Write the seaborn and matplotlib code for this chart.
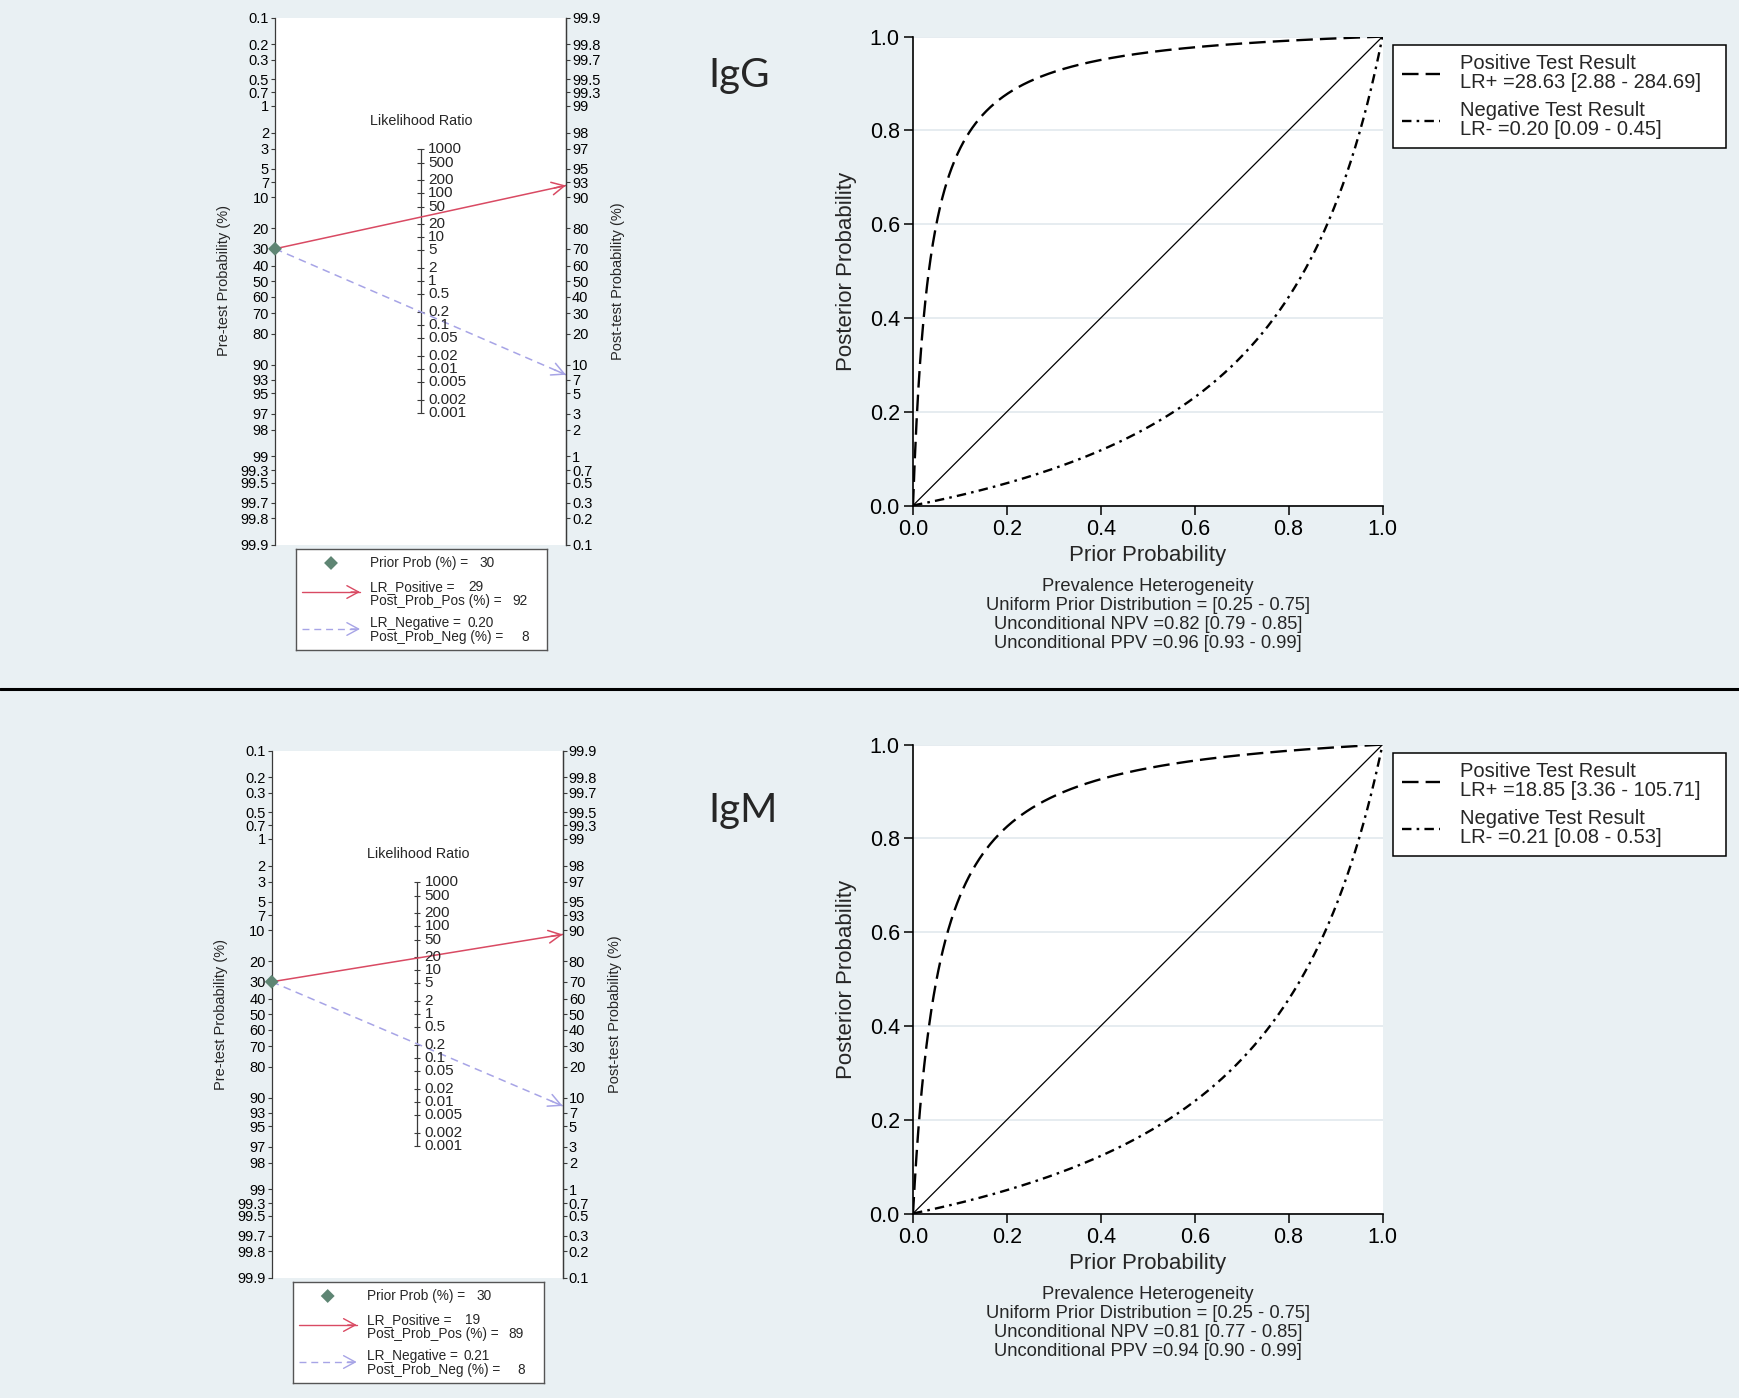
import numpy as np
import pandas as pd
import matplotlib
matplotlib.use("Agg")
import matplotlib.pyplot as plt
import seaborn as sns
from matplotlib.lines import Line2D

# ---------------- data ----------------
panel_names = ["IgG", "IgM"]
prior_prob = [30, 30]                      # %
lr_pos = [28.63, 18.85]
lr_pos_ci = [(2.88, 284.69), (3.36, 105.71)]
lr_neg = [0.20, 0.21]
lr_neg_ci = [(0.09, 0.45), (0.08, 0.53)]
post_prob_pos = [92, 89]                   # %
post_prob_neg = [8, 8]                     # %
prior_range = (0.25, 0.75)
npv = [0.82, 0.81]
npv_ci = [(0.79, 0.85), (0.77, 0.85)]
ppv = [0.96, 0.94]
ppv_ci = [(0.93, 0.99), (0.90, 0.99)]

pre_ticks = [0.1, 0.2, 0.3, 0.5, 0.7, 1, 2, 3, 5, 7, 10, 20, 30, 40, 50, 60, 70, 80,
             90, 93, 95, 97, 98, 99, 99.3, 99.5, 99.7, 99.8, 99.9]
post_ticks = [99.9, 99.8, 99.7, 99.5, 99.3, 99, 98, 97, 95, 93, 90, 80, 70, 60, 50, 40,
              30, 20, 10, 7, 5, 3, 2, 1, 0.7, 0.5, 0.3, 0.2, 0.1]
lr_ticks = [1000, 500, 200, 100, 50, 20, 10, 5, 2, 1, 0.5, 0.2, 0.1, 0.05, 0.02, 0.01,
            0.005, 0.002, 0.001]
prob_ticks = [0.0, 0.2, 0.4, 0.6, 0.8, 1.0]

# ---------------- style ----------------
sns.set_theme(style="white")
plt.rcParams["font.family"] = ["Liberation Sans", "DejaVu Sans"]

BG = "#E9F0F3"
GRID = "#E4EBEF"
POS_C = "#D94A63"
NEG_C = "#A7A4E6"
DIAM_C = "#5E8573"
AXC = "#3a3a3a"

W, H = 1739, 1398
fig = plt.figure(figsize=(W / 100, H / 100), dpi=100, facecolor=BG)


def frect(x0, y0, x1, y1):
    return [x0 / W, 1 - y1 / H, (x1 - x0) / W, (y1 - y0) / H]


def fx(x):
    return x / W


def fy(y):
    return 1 - y / H


def logit(p):
    p = np.asarray(p, dtype=float)
    return np.log(p / (1 - p))


def fmt(v):
    return f"{v:g}"


LIM = float(logit(0.999))
POS_LS = (0, (7, 3))
NEG_LS = (0, (4, 2.2, 1.1, 2.2))

for i, name in enumerate(panel_names):
    dxn, dyn = [0.0, -3.3][i], [0.0, 733.0][i]
    dyr = [0.0, 708.0][i]

    # ================= Fagan nomogram =================
    nx0, nx1 = 275 + dxn, 566 + dxn
    ny0, ny1 = 17.7 + dyn, 544.5 + dyn
    nw = nx1 - nx0
    ax = fig.add_axes(frect(nx0, ny0, nx1, ny1))
    ax.set_facecolor("white")
    ax.set_xlim(0, 1)
    ax.set_ylim(-LIM, LIM)
    for s in ["top", "bottom"]:
        ax.spines[s].set_visible(False)
    for s in ["left", "right"]:
        ax.spines[s].set_color(AXC)
        ax.spines[s].set_linewidth(0.9)
    ax.set_xticks([])
    ax.set_yticks(-logit(np.array(pre_ticks) / 100))
    ax.set_yticklabels([fmt(v) for v in pre_ticks])
    ax.tick_params(axis="y", direction="out", length=3.2, width=0.8, color=AXC,
                   labelsize=10.5, pad=1.2, labelcolor="black")
    ax.grid(False)

    tw = ax.twinx()
    tw.set_ylim(-LIM, LIM)
    for s in ["top", "bottom", "left"]:
        tw.spines[s].set_visible(False)
    tw.spines["right"].set_color(AXC)
    tw.spines["right"].set_linewidth(0.9)
    tw.set_yticks(logit(np.array(post_ticks) / 100))
    tw.set_yticklabels([fmt(v) for v in post_ticks])
    tw.tick_params(axis="y", direction="out", length=3.2, width=0.8, color=AXC,
                   labelsize=10.5, pad=1.2, labelcolor="black")
    tw.grid(False)

    # likelihood ratio scale
    lr_y = np.log(np.array(lr_ticks, dtype=float)) / 2
    ax.plot([0.5, 0.5], [lr_y.min(), lr_y.max()], color=AXC, lw=0.9)
    ax.hlines(lr_y, 0.5 - 3.2 / nw, 0.5 + 3.2 / nw, color=AXC, lw=0.8)
    for v, yy in zip(lr_ticks, lr_y):
        ax.text(0.5 + 7.5 / nw, yy, fmt(v), fontsize=11, ha="left", va="center")

    # lines from prior through LR
    y0 = float(-logit(prior_prob[i] / 100))
    yp = float(logit(prior_prob[i] / 100) + np.log(lr_pos[i]))
    yn = float(logit(prior_prob[i] / 100) + np.log(lr_neg[i]))
    ax.plot([0, 1], [y0, yp], color=POS_C, lw=1.1)
    ax.annotate("", xy=(1, yp), xytext=(0.96, y0 + (yp - y0) * 0.96),
                arrowprops=dict(arrowstyle="->,head_length=0.75,head_width=0.38",
                                color=POS_C, lw=1.1, shrinkA=0, shrinkB=0),
                annotation_clip=False)
    ax.plot([0, 1], [y0, yn], color=NEG_C, lw=1.1, linestyle=(0, (5, 3.5)))
    ax.annotate("", xy=(1, yn), xytext=(0.96, y0 + (yn - y0) * 0.96),
                arrowprops=dict(arrowstyle="->,head_length=0.75,head_width=0.38",
                                color=NEG_C, lw=1.1, shrinkA=0, shrinkB=0),
                annotation_clip=False)
    sns.scatterplot(x=[0.0], y=[y0], ax=ax, marker="D", s=50, color=DIAM_C,
                    edgecolor="none", zorder=6, clip_on=False, legend=False)
    ax.set_xlim(0, 1)
    ax.set_ylim(-LIM, LIM)
    ax.set_xlabel("")
    ax.set_ylabel("")

    fig.text(fx(421.7 + dxn), fy(120.7 + dyn), "Likelihood Ratio", fontsize=10.4,
             ha="center", va="center")
    fig.text(fx(224 + dxn), fy(281 + dyn), "Pre-test Probability (%)", fontsize=10.5,
             rotation=90, ha="center", va="center")
    fig.text(fx(618 + dxn), fy(281 + dyn), "Post-test Probability (%)", fontsize=10.5,
             rotation=90, ha="center", va="center")

    # nomogram legend box
    lx0, ly0 = 296 + dxn, 549 + dyn
    lax = fig.add_axes(frect(lx0, ly0, lx0 + 251, ly0 + 101))
    lax.set_facecolor("white")
    lax.set_xlim(0, 251)
    lax.set_ylim(101, 0)
    lax.set_xticks([])
    lax.set_yticks([])
    for s in lax.spines.values():
        s.set_color("#555555")
        s.set_linewidth(1.0)
        s.set_visible(True)
    lax.scatter([35], [14], marker="D", s=50, color=DIAM_C, edgecolor="none")
    fsl = 9.8
    lax.text(74, 14, "Prior Prob (%) =", fontsize=fsl, va="center")
    lax.text(184, 14, f"{prior_prob[i]}", fontsize=fsl, va="center")
    lax.plot([6, 64], [43, 43], color=POS_C, lw=1.0)
    lax.annotate("", xy=(64, 43), xytext=(55, 43),
                 arrowprops=dict(arrowstyle="->,head_length=0.7,head_width=0.38",
                                 color=POS_C, lw=1.0, shrinkA=0, shrinkB=0))
    lax.text(74, 38, "LR_Positive =", fontsize=fsl, va="center")
    lax.text(172, 38, f"{lr_pos[i]:.0f}", fontsize=fsl, va="center")
    lax.text(74, 52, "Post_Prob_Pos (%) =", fontsize=fsl, va="center")
    lax.text(216, 52, f"{post_prob_pos[i]}", fontsize=fsl, va="center")
    lax.plot([6, 64], [80, 80], color=NEG_C, lw=1.0, linestyle=(0, (5, 3.5)))
    lax.annotate("", xy=(64, 80), xytext=(55, 80),
                 arrowprops=dict(arrowstyle="->,head_length=0.7,head_width=0.38",
                                 color=NEG_C, lw=1.0, shrinkA=0, shrinkB=0))
    lax.text(74, 74, "LR_Negative =", fontsize=fsl, va="center")
    lax.text(171, 74, f"{lr_neg[i]:.2f}", fontsize=fsl, va="center")
    lax.text(74, 88, "Post_Prob_Neg (%) =", fontsize=fsl, va="center")
    lax.text(225, 88, f"{post_prob_neg[i]}", fontsize=fsl, va="center")

    # panel title
    fig.text(fx(708), fy(76 + [0, 734][i]), name, fontsize=29, ha="left", va="center",
             family=["Lato", "DejaVu Sans"])

    # ================= conditional probability plot =================
    rx0, rx1 = 913, 1382.5
    ry0, ry1 = 36.6 + dyr, 505.5 + dyr
    rax = fig.add_axes(frect(rx0, ry0, rx1, ry1))
    rax.set_facecolor("white")
    prior = np.linspace(0, 1, 801)
    df = pd.DataFrame({
        "prior": prior,
        "pos": lr_pos[i] * prior / (lr_pos[i] * prior + (1 - prior)),
        "neg": lr_neg[i] * prior / (lr_neg[i] * prior + (1 - prior)),
    })
    sns.lineplot(data=df, x="prior", y="prior", ax=rax, color="black", lw=0.9,
                 estimator=None, sort=False)
    sns.lineplot(data=df, x="prior", y="pos", ax=rax, color="black", lw=1.7,
                 linestyle=POS_LS, estimator=None, sort=False)
    sns.lineplot(data=df, x="prior", y="neg", ax=rax, color="black", lw=1.7,
                 linestyle=NEG_LS, estimator=None, sort=False)
    rax.set_xlim(0, 1)
    rax.set_ylim(0, 1)
    rax.set_xticks(prob_ticks)
    rax.set_xticklabels([f"{v:.1f}" for v in prob_ticks])
    rax.set_yticks(prob_ticks)
    rax.set_yticklabels([f"{v:.1f}" for v in prob_ticks])
    rax.grid(False)
    rax.yaxis.grid(True, color=GRID, lw=1.3)
    rax.set_axisbelow(True)
    for s in ["top", "right"]:
        rax.spines[s].set_visible(False)
    for s in ["left", "bottom"]:
        rax.spines[s].set_color("black")
        rax.spines[s].set_linewidth(1.2)
    rax.tick_params(direction="out", length=6.5, width=1.1, color="black",
                    labelsize=15.5, pad=3, labelcolor="black",
                    left=True, bottom=True)
    rax.set_xlabel("Prior Probability", fontsize=16)
    rax.set_ylabel("Posterior Probability", fontsize=16)
    rax.xaxis.set_label_coords(0.5, -39 / (ry1 - ry0))
    rax.yaxis.set_label_coords((857 - rx0) / (rx1 - rx0), 0.5)

    handles = [Line2D([], [], color="black", lw=1.7, linestyle=POS_LS),
               Line2D([], [], color="black", lw=1.7, linestyle=NEG_LS)]
    labels = [f"Positive Test Result\nLR+ ={lr_pos[i]:.2f} [{lr_pos_ci[i][0]:.2f} - {lr_pos_ci[i][1]:.2f}]",
              f"Negative Test Result\nLR- ={lr_neg[i]:.2f} [{lr_neg_ci[i][0]:.2f} - {lr_neg_ci[i][1]:.2f}]"]
    lb_top = 45 + dyr
    leg = rax.legend(handles, labels, loc="upper left",
                     bbox_to_anchor=(fx(1393), fy(lb_top + 110), (1726 - 1393) / W, 110 / H),
                     bbox_transform=fig.transFigure, mode="expand", borderaxespad=0,
                     fontsize=14.5, handlelength=1.9, handletextpad=1.0,
                     labelspacing=0.45, borderpad=0.45, fancybox=False, framealpha=1,
                     edgecolor="black", facecolor="white")
    leg.get_frame().set_linewidth(1.1)
    for t in leg.get_texts():
        t.set_linespacing(1.0)

    # prevalence text
    cx = (rx0 + rx1) / 2
    lines = ["Prevalence Heterogeneity",
             f"Uniform Prior Distribution = [{prior_range[0]:.2f} - {prior_range[1]:.2f}]",
             f"Unconditional NPV ={npv[i]:.2f} [{npv_ci[i][0]:.2f} - {npv_ci[i][1]:.2f}]",
             f"Unconditional PPV ={ppv[i]:.2f} [{ppv_ci[i][0]:.2f} - {ppv_ci[i][1]:.2f}]"]
    for k, t in enumerate(lines):
        fig.text(fx(cx), fy(ry1 + 81 + 19 * k), t, fontsize=13.2, ha="center", va="center")

# divider line
fig.add_artist(Line2D([0, 1], [fy(689), fy(689)], transform=fig.transFigure,
                      color="black", lw=2.2))

fig.savefig("out.png", dpi=100, facecolor=BG)
